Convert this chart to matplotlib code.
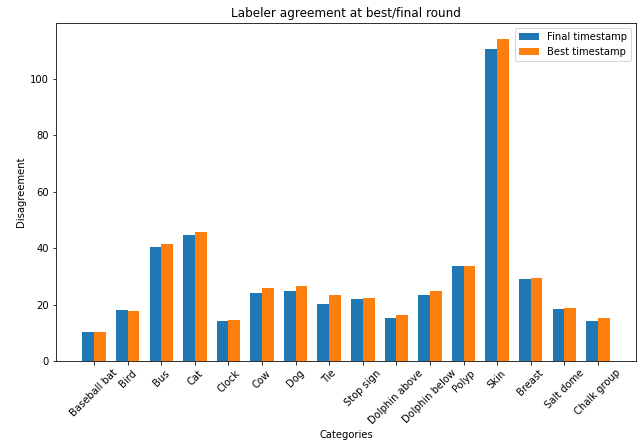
import numpy as np
import matplotlib
matplotlib.use("Agg")
import matplotlib.pyplot as plt

categories = ["Baseball bat", "Bird", "Bus", "Cat", "Clock", "Cow", "Dog", "Tie",
              "Stop sign", "Dolphin above", "Dolphin below", "Polyp", "Skin",
              "Breast", "Salt dome", "Chalk group"]
final_ts = [10.4, 18.1, 40.5, 44.6, 14.1, 24.0, 24.7, 20.1,
            21.9, 15.2, 23.3, 33.6, 110.5, 29.1, 18.4, 14.1]
best_ts = [10.4, 17.7, 41.6, 45.7, 14.5, 25.9, 26.6, 23.3,
           22.2, 16.3, 24.7, 33.6, 114.0, 29.4, 18.8, 15.1]

dpi = 72
fig = plt.figure(figsize=(637 / dpi, 445 / dpi), dpi=dpi)
ax = fig.add_axes([56 / 637, (445 - 361) / 445, (636 - 56) / 637, (361 - 23) / 445])

x = np.arange(len(categories))
width = 0.35
ax.bar(x - width / 2, final_ts, width, label="Final timestamp")
ax.bar(x + width / 2, best_ts, width, label="Best timestamp")

ax.set_xticks(x)
ax.set_xticklabels(categories, rotation=45)
ax.set_xlabel("Categories")
ax.set_ylabel("Disagreement")
ax.set_title("Labeler agreement at best/final round", fontsize=12)
ax.legend(loc="upper right")

fig.savefig("out.png", dpi=dpi)
